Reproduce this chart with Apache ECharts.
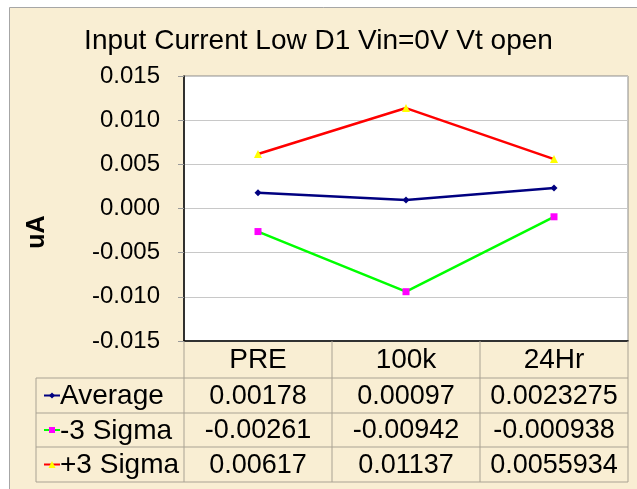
<!DOCTYPE html>
<html>
<head>
<meta charset="utf-8">
<script src="https://cdn.jsdelivr.net/npm/echarts@6/dist/echarts.min.js"></script>
<style>
  html, body { margin: 0; padding: 0; background: #fff; }
  #chart { width: 637px; height: 489px; }
</style>
</head>
<body>
<div id="chart"></div>
<script>
const categories = ['PRE', '100k', '24Hr'];
const average = [0.00178, 0.00097, 0.0023275];
const minus3Sigma = [-0.00261, -0.00942, -0.000938];
const plus3Sigma = [0.00617, 0.01137, 0.0055934];
// table text as shown in the sheet
const averageText = ['0.00178', '0.00097', '0.0023275'];
const minus3Text = ['-0.00261', '-0.00942', '-0.000938'];
const plus3Text = ['0.00617', '0.01137', '0.0055934'];

const FONT = 'Arial, "Liberation Sans", sans-serif';
const gridLeft = 184, gridTop = 76, gridW = 444, gridH = 265;
const band = gridW / categories.length;
const rowY = [341, 378, 413, 447, 482];
const tableLeft = 36;
const lineColor = '#a9a293';

const rows = [
  { name: 'Average', text: averageText, line: '#000080', symbol: 'diamond', mark: '#000080', size: 6 },
  { name: '-3 Sigma', text: minus3Text, line: '#00ff00', symbol: 'rect', mark: '#ff00ff', size: 6 },
  { name: '+3 Sigma', text: plus3Text, line: '#ff0000', symbol: 'triangle', mark: '#ffff00', size: 7 }
];

const graphic = [];
// chart area background
graphic.push({ type: 'rect', shape: { x: 9.5, y: 7.5, width: 640, height: 500 }, style: { fill: '#f9eed3', stroke: '#a6a6a6', lineWidth: 1 }, z: -10 });
// table grid lines
for (let i = 0; i <= categories.length; i++) {
  const x = gridLeft + i * band;
  graphic.push({ type: 'line', shape: { x1: x, y1: rowY[0], x2: x, y2: rowY[4] }, style: { stroke: lineColor, lineWidth: 1 }, z: 1 });
}
graphic.push({ type: 'line', shape: { x1: tableLeft, y1: rowY[1], x2: tableLeft, y2: rowY[4] }, style: { stroke: lineColor, lineWidth: 1 }, z: 1 });
for (let r = 1; r < rowY.length; r++) {
  graphic.push({ type: 'line', shape: { x1: tableLeft, y1: rowY[r], x2: gridLeft + gridW, y2: rowY[r] }, style: { stroke: lineColor, lineWidth: 1 }, z: 1 });
}
// table rows
rows.forEach((row, r) => {
  const cy = (rowY[r + 1] + rowY[r + 2]) / 2;
  const mx = 52;
  graphic.push({ type: 'line', shape: { x1: 44, y1: cy, x2: 60, y2: cy }, style: { stroke: row.line, lineWidth: 2 }, z: 2 });
  const s = row.size;
  let shape;
  if (row.symbol === 'rect') {
    shape = { type: 'rect', shape: { x: mx - s / 2, y: cy - s / 2, width: s, height: s }, style: { fill: row.mark }, z: 3 };
  } else if (row.symbol === 'triangle') {
    shape = { type: 'polygon', shape: { points: [[mx, cy - s / 2], [mx + s / 2, cy + s / 2], [mx - s / 2, cy + s / 2]] }, style: { fill: row.mark }, z: 3 };
  } else {
    shape = { type: 'polygon', shape: { points: [[mx, cy - 3], [mx + 3, cy], [mx, cy + 3], [mx - 3, cy]] }, style: { fill: row.mark }, z: 3 };
  }
  graphic.push(shape);
  graphic.push({ type: 'text', x: 60, y: cy + 1, style: { text: row.name, font: '28px ' + FONT, fill: '#000', verticalAlign: 'middle' }, z: 2 });
  row.text.forEach((t, c) => {
    graphic.push({ type: 'text', x: gridLeft + band * (c + 0.5), y: cy + 1, style: { text: t, font: '27px ' + FONT, fill: '#000', align: 'center', verticalAlign: 'middle' }, z: 2 });
  });
});
// "uA" axis title
graphic.push({ type: 'text', x: 37, y: 232, rotation: Math.PI / 2, style: { text: 'uA', font: 'bold 25px ' + FONT, fill: '#000', align: 'center', verticalAlign: 'middle' }, z: 2 });

const mk = (name, data, r) => ({
  name: name,
  type: 'line',
  data: data,
  symbol: r.symbol,
  symbolSize: r.symbol === 'diamond' ? [7, 7] : r.size + 1,
  lineStyle: { color: r.line, width: 2.5 },
  itemStyle: { color: r.mark, borderWidth: 0 },
  z: 5
});

const option = {
  animation: false,
  backgroundColor: 'transparent',
  title: {
    text: 'Input Current Low D1 Vin=0V Vt open',
    left: 'center',
    top: 22,
    textStyle: { fontFamily: FONT, fontSize: 28, fontWeight: 'normal', color: '#000' }
  },
  grid: {
    left: gridLeft, top: gridTop, width: gridW, height: gridH,
    show: true, backgroundColor: '#fff', borderColor: '#8a8a8a', borderWidth: 1
  },
  xAxis: {
    type: 'category',
    data: categories,
    boundaryGap: true,
    axisLine: { onZero: false, lineStyle: { color: '#000', width: 1.5 } },
    axisTick: { show: false },
    axisLabel: { color: '#000', fontFamily: FONT, fontSize: 28, margin: 5 }
  },
  yAxis: {
    type: 'value',
    min: -0.015,
    max: 0.015,
    interval: 0.005,
    axisLine: { show: true, lineStyle: { color: '#000', width: 1.5 } },
    axisTick: { show: true, length: 6, lineStyle: { color: '#999' } },
    axisLabel: { color: '#000', fontFamily: FONT, fontSize: 24, margin: 24, formatter: v => v.toFixed(3) },
    splitLine: { lineStyle: { color: '#c8c8c8', width: 1 } }
  },
  graphic: graphic,
  series: [
    mk('Average', average, rows[0]),
    mk('-3 Sigma', minus3Sigma, rows[1]),
    mk('+3 Sigma', plus3Sigma, rows[2])
  ]
};

const chart = echarts.init(document.getElementById('chart'));
chart.setOption(option);
</script>
</body>
</html>
